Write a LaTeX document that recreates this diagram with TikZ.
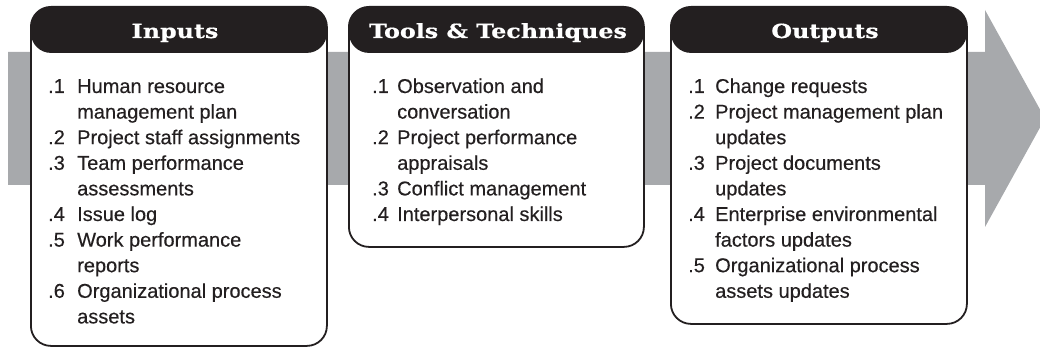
\documentclass[tikz,border=0pt]{standalone}
\usepackage{fontspec}
\setmainfont{Liberation Sans}[FakeBold=0.35]
\newfontfamily\hdrfont{DejaVu Serif}[BoldFeatures={FakeStretch=1.22,FakeBold=0.6}]
\usepackage{array}
\definecolor{band}{HTML}{A7A9AC}
\definecolor{ink}{HTML}{231F20}
\tikzset{
  pbox/.style={draw=ink, line width=1.8pt, fill=white, rounded corners=20pt,
    rectangle, inner sep=0pt, anchor=north west,
    path picture={\fill[ink] ([yshift=-46pt]path picture bounding box.north west) rectangle (path picture bounding box.north east);}},
  hdr/.style={text=white, inner sep=0pt, anchor=base, font=\hdrfont\bfseries\fontsize{19.5}{22}\selectfont},
  items/.style={text=ink, inner sep=0pt, anchor=base west, font=\fontsize{20}{25.6}\selectfont}
}
\begin{document}
\begin{tikzpicture}[x=1pt,y=-1pt]
\useasboundingbox (0,0) rectangle (1040,347);
% process arrow band
\fill[band] (8,52) -- (985,52) -- (985,10) -- (1045,118.5) -- (985,227) -- (985,185) -- (8,185) -- cycle;
% boxes
\node[pbox, minimum width=296pt, minimum height=339pt] (inp) at (30,6) {};
\node[pbox, minimum width=295pt, minimum height=240pt] (tt) at (348,6) {};
\node[pbox, minimum width=296pt, minimum height=317pt] (out) at (670,6) {};
% headers
\node[hdr] (inph) at (175,38) {Inputs};
\node[hdr] (tth) at (498,38) {Tools \& Techniques};
\node[hdr] (outh) at (825,38) {Outputs};
% lists
\node[items] (inpl) at (48,93) {\begin{tabular}[t]{@{}p{29pt}@{}l@{}}
.1 & Human resource\\
   & management plan\\
.2 & Project staff assignments\\
.3 & Team performance\\
   & assessments\\
.4 & Issue log\\
.5 & Work performance\\
   & reports\\
.6 & Organizational process\\
   & assets
\end{tabular}};
\node[items] (ttl) at (372,93) {\begin{tabular}[t]{@{}p{25pt}@{}l@{}}
.1 & Observation and\\
   & conversation\\
.2 & Project performance\\
   & appraisals\\
.3 & Conflict management\\
.4 & Interpersonal skills
\end{tabular}};
\node[items] (outl) at (688,93) {\begin{tabular}[t]{@{}p{27pt}@{}l@{}}
.1 & Change requests\\
.2 & Project management plan\\
   & updates\\
.3 & Project documents\\
   & updates\\
.4 & Enterprise environmental\\
   & factors updates\\
.5 & Organizational process\\
   & assets updates
\end{tabular}};
\end{tikzpicture}
\end{document}
